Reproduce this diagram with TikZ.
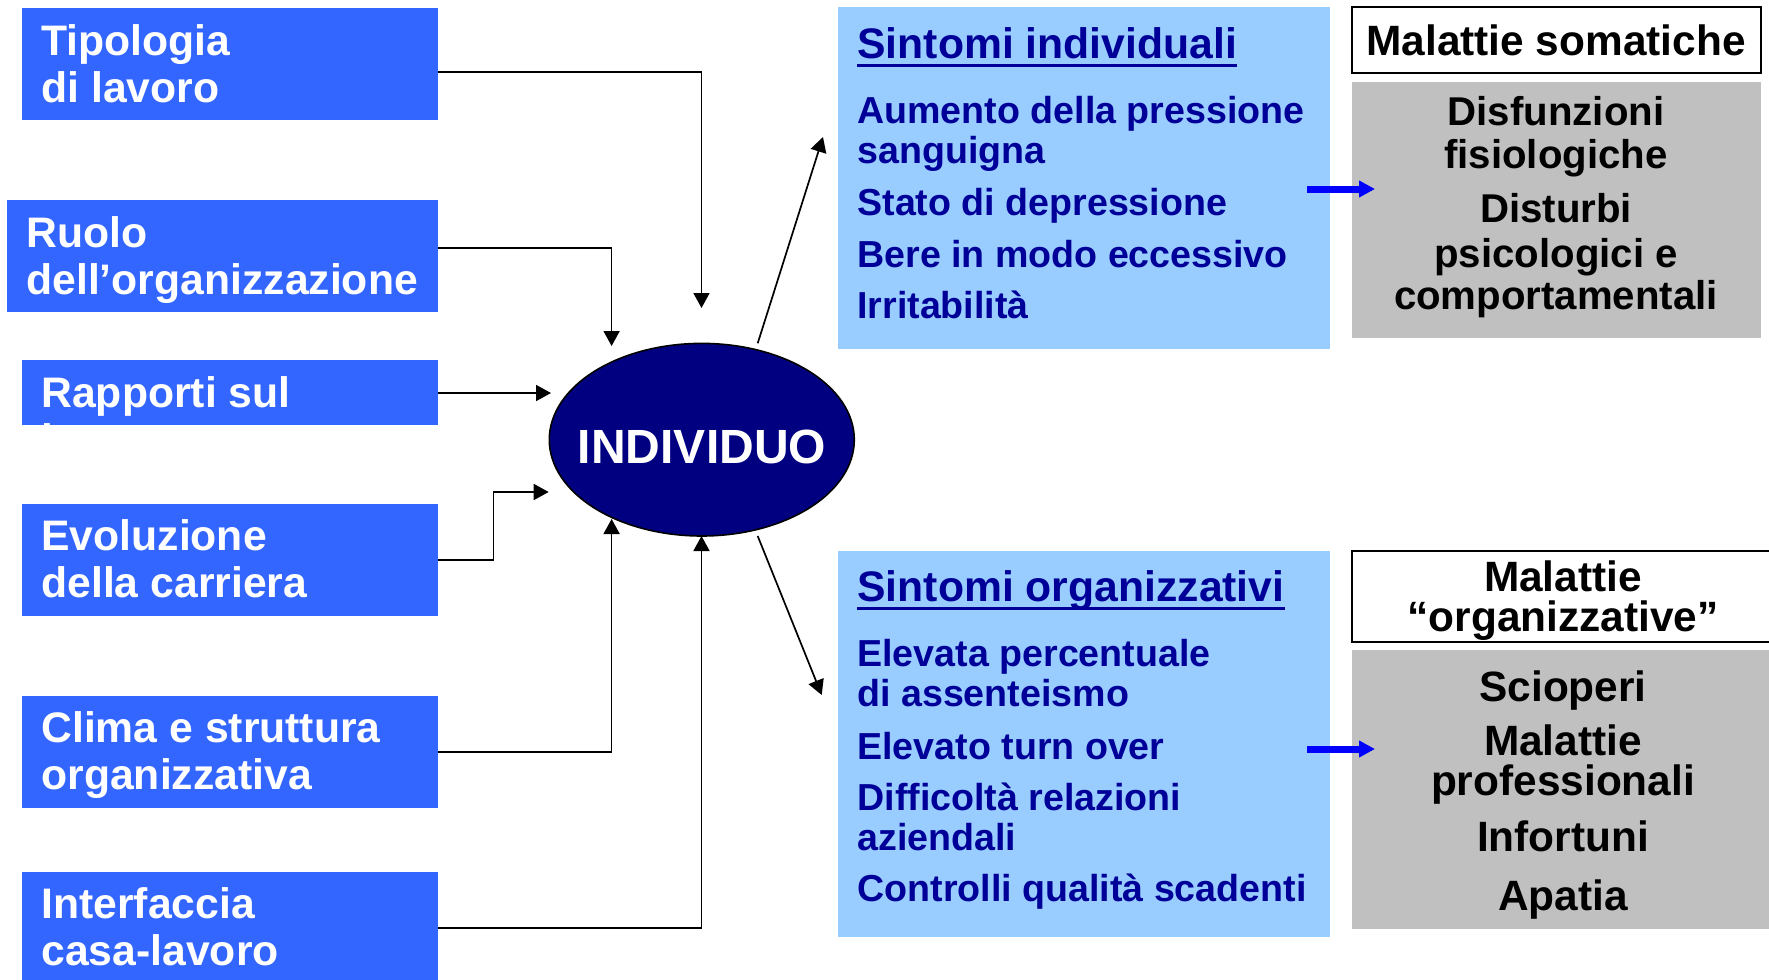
\documentclass[tikz,border=0pt]{standalone}
\usepackage{fontspec}
\setmainfont{Liberation Sans}
\usetikzlibrary{arrows.meta,shapes.geometric}
\definecolor{lblue}{HTML}{3366FF}
\definecolor{navyc}{HTML}{000080}
\definecolor{pblue}{HTML}{99CCFF}
\definecolor{dblue}{HTML}{000099}
\definecolor{grayc}{HTML}{C0C0C0}
\definecolor{arrblue}{HTML}{0000FF}
\begin{document}
\begin{tikzpicture}[x=0.5pt,y=-0.5pt,
  boxbase/.style={anchor=north west, inner sep=0pt, outer sep=0pt},
  lbox/.style={boxbase, fill=lblue, draw=none},
  pbox/.style={boxbase, fill=pblue, draw=none},
  gbox/.style={boxbase, fill=grayc, draw=none},
  wbox/.style={boxbase, fill=white, draw=black, line width=1pt},
  ltxt/.style={anchor=base west, inner sep=0pt, text=white, font=\bfseries\fontsize{21.35}{23}\selectfont},
  ttl/.style={anchor=base west, inner sep=0pt, text=dblue, font=\bfseries\fontsize{21.35}{23}\selectfont},
  itm/.style={anchor=base west, inner sep=0pt, text=dblue, font=\bfseries\fontsize{18.8}{21}\selectfont},
  gtxt/.style={anchor=base, inner sep=0pt, text=black, font=\bfseries\fontsize{20.1}{22}\selectfont},
  gtxtb/.style={anchor=base, inner sep=0pt, text=black, font=\bfseries\fontsize{21.2}{23}\selectfont},
  conn/.style={line width=0.85pt, draw=black, -{Triangle[length=7.5pt,width=8pt]}},
  barr/.style={line width=3.5pt, draw=arrblue, -{Triangle[length=8pt,width=8pt]}},
  uline/.style={line width=1.5pt, draw=dblue}
]
\useasboundingbox (0,0) rectangle (1769,980);
\fill[white] (0,0) rectangle (1769,980);

% left boxes
\node[lbox, minimum width=208pt, minimum height=56pt] (b1) at (22,8) {};
\node[lbox, minimum width=215.5pt, minimum height=56pt] (b2) at (7,200) {};
\node[lbox, minimum width=208pt, minimum height=32.5pt] (b3) at (22,360) {};
\node[lbox, minimum width=208pt, minimum height=56pt] (b4) at (22,504) {};
\node[lbox, minimum width=208pt, minimum height=56pt] (b5) at (22,696) {};
\node[lbox, minimum width=208pt, minimum height=62pt] (b6) at (22,872) {};

\node[ltxt] (b1a) at (41,55) {Tipologia};
\node[ltxt] (b1b) at (41,102) {di lavoro};
\node[ltxt] (b2a) at (26,247) {Ruolo};
\node[ltxt] (b2b) at (26,294) {dell’organizzazione};
\node[ltxt] (b3a) at (41,407) {Rapporti sul};
\begin{scope}
  \clip (22,360) rectangle (438,425);
  \node[ltxt] (b3b) at (41,454) {lavoro};
\end{scope}
\node[ltxt] (b4a) at (41,550) {Evoluzione};
\node[ltxt] (b4b) at (41,597) {della carriera};
\node[ltxt] (b5a) at (41,742) {Clima e struttura};
\node[ltxt] (b5b) at (41,789) {organizzativa};
\node[ltxt] (b6a) at (41,918) {Interfaccia};
\node[ltxt] (b6b) at (41,965) {casa-lavoro};

% central ellipse
\node[ellipse, minimum width=152.5pt, minimum height=96.3pt, inner sep=0pt,
      fill=navyc, draw=black, line width=0.8pt] (ind) at (701.8,439.7) {};
\node[anchor=base, inner sep=0pt, text=white, font=\bfseries\fontsize{24}{26}\selectfont] (indt) at (702,463) {INDIVIDUO};

% arrow tip coordinates
\coordinate (t1) at (701.5,308);
\coordinate (t2) at (611.6,346);
\coordinate (t3) at (551,393);
\coordinate (k4) at (493.6,492);
\coordinate (t4) at (548.7,492);
\coordinate (t5) at (611.6,519);
\coordinate (t6) at (701.5,536);

\draw[conn] (b1.east |- 0,72) -| (t1);
\draw[conn] (b2.east |- 0,248) -| (t2);
\draw[conn] (b3.east |- 0,393) -- (t3);
\draw[conn] (b4.east) -| (k4) -- (t4);
\draw[conn] (b5.east) -| (t5);
\draw[conn] (b6.east |- 0,928) -| (t6);

% outgoing arrows
\coordinate (o1s) at (757.7,343.3);
\coordinate (o1e) at (823,137);
\coordinate (o2s) at (757.7,536);
\coordinate (o2e) at (821.7,695);
\draw[conn] (o1s) -- (o1e);
\draw[conn] (o2s) -- (o2e);

% right top panel
\node[pbox, minimum width=246pt, minimum height=171pt] (p1) at (838,7) {};
\node[ttl] (p1t) at (857,58) {Sintomi individuali};
\draw[uline] ([yshift=-3.5pt]p1t.base west) -- ([yshift=-3.5pt]p1t.base east);
\node[itm] (p1a) at (857,123) {Aumento della pressione};
\node[itm] (p1b) at (857,163) {sanguigna};
\node[itm] (p1c) at (857,215) {Stato di depressione};
\node[itm] (p1d) at (857,267) {Bere in modo eccessivo};
\node[itm] (p1e) at (857,318) {Irritabilità};

\node[wbox, minimum width=204.75pt, minimum height=33pt] (w1) at (1351.5,7) {};
\node[gtxtb] (w1t) at (1556,55) {Malattie somatiche};
\node[gbox, minimum width=204.75pt, minimum height=128pt] (g1) at (1351.5,82) {};
\node[gtxt] (g1a) at (1556,125) {Disfunzioni};
\node[gtxt] (g1b) at (1556,168) {fisiologiche};
\node[gtxt] (g1c) at (1556,222) {Disturbi};
\node[gtxt] (g1d) at (1556,267) {psicologici e};
\node[gtxt] (g1e) at (1556,309) {comportamentali};

\coordinate (a1s) at (1307,189);
\coordinate (a1e) at (1375,189);
\draw[barr] (a1s) -- (a1e);

% right bottom panel
\node[pbox, minimum width=246pt, minimum height=193.3pt] (p2) at (838,550.7) {};
\node[ttl] (p2t) at (857,601.7) {Sintomi organizzativi};
\draw[uline] ([yshift=-3.5pt]p2t.base west) -- ([yshift=-3.5pt]p2t.base east);
\node[itm] (p2a) at (857,666.7) {Elevata percentuale};
\node[itm] (p2b) at (857,706.7) {di assenteismo};
\node[itm] (p2c) at (857,759.3) {Elevato turn over};
\node[itm] (p2d) at (857,810) {Difficoltà relazioni};
\node[itm] (p2e) at (857,850) {aziendali};
\node[itm] (p2f) at (857,901.7) {Controlli qualità scadenti};

\node[wbox, minimum width=211.75pt, minimum height=45.5pt] (w2) at (1351.5,550.7) {};
\node[gtxtb] (w2a) at (1563,591.7) {Malattie};
\node[gtxtb] (w2b) at (1563,631.7) {“organizzative”};
\node[gbox, minimum width=211.75pt, minimum height=139.65pt] (g2) at (1351.5,650) {};
\node[gtxtb] (g2a) at (1563,701.7) {Scioperi};
\node[gtxtb] (g2b) at (1563,755) {Malattie};
\node[gtxtb] (g2c) at (1563,795) {professionali};
\node[gtxtb] (g2d) at (1563,851.7) {Infortuni};
\node[gtxtb] (g2e) at (1563,910) {Apatia};

\coordinate (a2s) at (1307,749);
\coordinate (a2e) at (1375,749);
\draw[barr] (a2s) -- (a2e);
\end{tikzpicture}
\end{document}
